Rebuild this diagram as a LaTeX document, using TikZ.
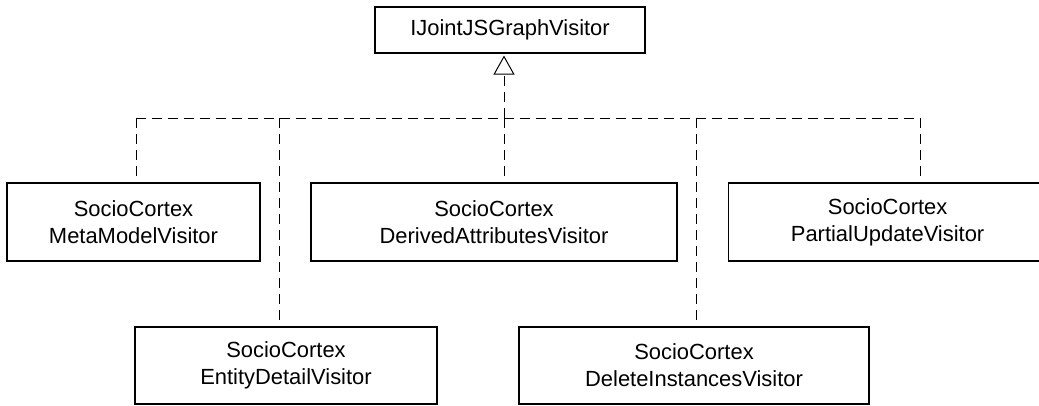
\documentclass[tikz,border=0pt]{standalone}
\usepackage{fontspec}
\setmainfont{Liberation Sans}
\usepackage{tikz}
\usetikzlibrary{arrows.meta,positioning,calc}

\begin{document}
\begin{tikzpicture}[
  visitor/.style={draw, line width=0.8pt, align=center, inner sep=0pt,
                  minimum height=1.95cm, font=\fontsize{15.6}{19}\selectfont},
  realize/.style={dashed, line width=0.7pt, dash pattern=on 0.25cm off 0.15cm}
]
  \useasboundingbox (0,0) rectangle (25.975,-10.125);
  % interface
  \node[visitor, minimum width=6.75cm, minimum height=1.15cm] (iface) at (12.75,-0.75) {IJointJSGraphVisitor};
  % first row
  \node[visitor, minimum width=6.325cm] (meta) at (3.3375,-5.55)  {SocioCortex\\MetaModelVisitor};
  \node[visitor, minimum width=9.15cm]  (der)  at (12.35,-5.55)   {SocioCortex\\DerivedAttributesVisitor};
  \node[visitor, minimum width=7.975cm] (part) at (22.19,-5.55)   {SocioCortex\\PartialUpdateVisitor};
  % second row
  \node[visitor, minimum width=7.55cm, minimum height=1.925cm] (ent) at (7.15,-9.1375)  {SocioCortex\\EntityDetailVisitor};
  \node[visitor, minimum width=8.75cm, minimum height=1.925cm] (del) at (17.35,-9.1375) {SocioCortex\\DeleteInstancesVisitor};

  \coordinate (bmeta) at (3.4,-2.95);
  \coordinate (bent)  at (6.975,-2.95);
  \coordinate (bder)  at (12.6,-2.95);
  \coordinate (bdel)  at (17.4,-2.95);
  \coordinate (bpart) at (23.0,-2.95);

  \draw[realize] (bmeta) -- (bpart);
  \draw[realize, -{Triangle[open, length=0.475cm, width=0.525cm, line width=0.7pt]}]
    (bder) -- ($(bder |- iface.south)+(0,-0.05)$);
  \draw[realize] (bmeta) -- (bmeta |- meta.north);
  \draw[realize] (bent)  -- (bent |- ent.north);
  \draw[realize] (bder)  -- (bder |- der.north);
  \draw[realize] (bdel)  -- (bdel |- del.north);
  \draw[realize] (bpart) -- (bpart |- part.north);
\end{tikzpicture}
\end{document}
